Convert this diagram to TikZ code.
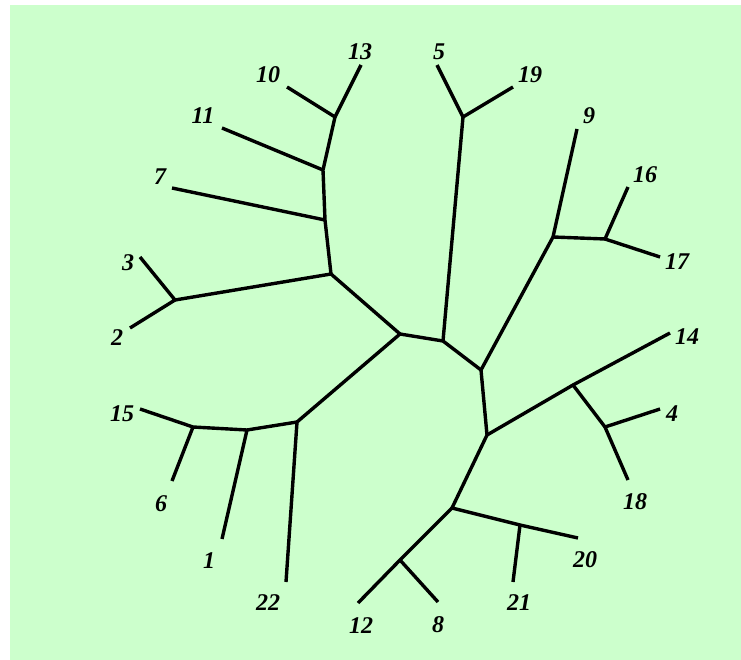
\documentclass[tikz,border=0pt]{standalone}
\usepackage{fontspec}
\setmainfont{Liberation Serif}
\usetikzlibrary{positioning}
\definecolor{mint}{HTML}{CCFFCC}
\definecolor{ink}{HTML}{000000}

\tikzset{
  branch/.style={draw=ink,line width=3.4pt,line join=round},
  taxon/.style={font=\fontsize{24}{27}\selectfont\bfseries\itshape,inner sep=0pt}
}

\begin{document}
\begin{tikzpicture}[x=1pt,y=-1pt]
  \useasboundingbox (0,0) rectangle (741,660);
  \fill[white] (0,0) rectangle (741,660);
  \fill[mint] (10,5) rectangle (742,661);

  % inner vertices
  \coordinate (a) at (400,334);
  \coordinate (b) at (443,341);
  \coordinate (c) at (481,370);
  \coordinate (d) at (487,435);
  \coordinate (p) at (331,274);
  \coordinate (q) at (175,300);
  \coordinate (r) at (325,220);
  \coordinate (s) at (323,170);
  \coordinate (t) at (335,117);
  \coordinate (u) at (463,117);
  \coordinate (e) at (553,237);
  \coordinate (f) at (605,239);
  \coordinate (g) at (573,385);
  \coordinate (h) at (605,427);
  \coordinate (i) at (452,508);
  \coordinate (j) at (520,525);
  \coordinate (k) at (400,560);
  \coordinate (m) at (297,422);
  \coordinate (n) at (247,430);
  \coordinate (o) at (193,427);

  % leaf ends
  \coordinate (e1)  at (222,539);
  \coordinate (e2)  at (130,328);
  \coordinate (e3)  at (140,257);
  \coordinate (e4)  at (660,409);
  \coordinate (e5)  at (437,65);
  \coordinate (e6)  at (172,481);
  \coordinate (e7)  at (172,188);
  \coordinate (e8)  at (438,602);
  \coordinate (e9)  at (577,129);
  \coordinate (e10) at (287,87);
  \coordinate (e11) at (222,128);
  \coordinate (e12) at (358,603);
  \coordinate (e13) at (361,65);
  \coordinate (e14) at (670,333);
  \coordinate (e15) at (140,409);
  \coordinate (e16) at (628,187);
  \coordinate (e17) at (660,257);
  \coordinate (e18) at (628,480);
  \coordinate (e19) at (513,87);
  \coordinate (e20) at (578,538);
  \coordinate (e21) at (513,582);
  \coordinate (e22) at (286,582);

  % labels
  \node[taxon] (l1)  at (209,561) {1};
  \node[taxon] (l2)  at (117,338) {2};
  \node[taxon] (l3)  at (128,263) {3};
  \node[taxon] (l4)  at (672,414) {4};
  \node[taxon] (l5)  at (439,52)  {5};
  \node[taxon] (l6)  at (161,504) {6};
  \node[taxon] (l7)  at (160,177) {7};
  \node[taxon] (l8)  at (438,625) {8};
  \node[taxon] (l9)  at (589,116) {9};
  \node[taxon] (l10) at (268,75)  {10};
  \node[taxon] (l11) at (203,116) {11};
  \node[taxon] (l12) at (361,626) {12};
  \node[taxon] (l13) at (360,52)  {13};
  \node[taxon] (l14) at (687,337) {14};
  \node[taxon] (l15) at (122,414) {15};
  \node[taxon] (l16) at (645,175) {16};
  \node[taxon] (l17) at (677,262) {17};
  \node[taxon] (l18) at (635,502) {18};
  \node[taxon] (l19) at (530,75)  {19};
  \node[taxon] (l20) at (585,560) {20};
  \node[taxon] (l21) at (519,603) {21};
  \node[taxon] (l22) at (268,603) {22};

  % tree
  \draw[branch] (m) -- (a) -- (b) -- (c) -- (d);
  \draw[branch] (a) -- (p);
  \draw[branch] (e2) -- (q) -- (e3);
  \draw[branch] (q) -- (p) -- (r) -- (s) -- (t);
  \draw[branch] (r) -- (e7);
  \draw[branch] (s) -- (e11);
  \draw[branch] (e10) -- (t) -- (e13);
  \draw[branch] (b) -- (u);
  \draw[branch] (e5) -- (u) -- (e19);
  \draw[branch] (c) -- (e) -- (e9);
  \draw[branch] (e) -- (f);
  \draw[branch] (e16) -- (f) -- (e17);
  \draw[branch] (d) -- (g) -- (e14);
  \draw[branch] (g) -- (h);
  \draw[branch] (e4) -- (h) -- (e18);
  \draw[branch] (d) -- (i) -- (j) -- (e20);
  \draw[branch] (j) -- (e21);
  \draw[branch] (i) -- (k) -- (e12);
  \draw[branch] (k) -- (e8);
  \draw[branch] (m) -- (e22);
  \draw[branch] (m) -- (n) -- (o) -- (e15);
  \draw[branch] (n) -- (e1);
  \draw[branch] (o) -- (e6);
\end{tikzpicture}
\end{document}
